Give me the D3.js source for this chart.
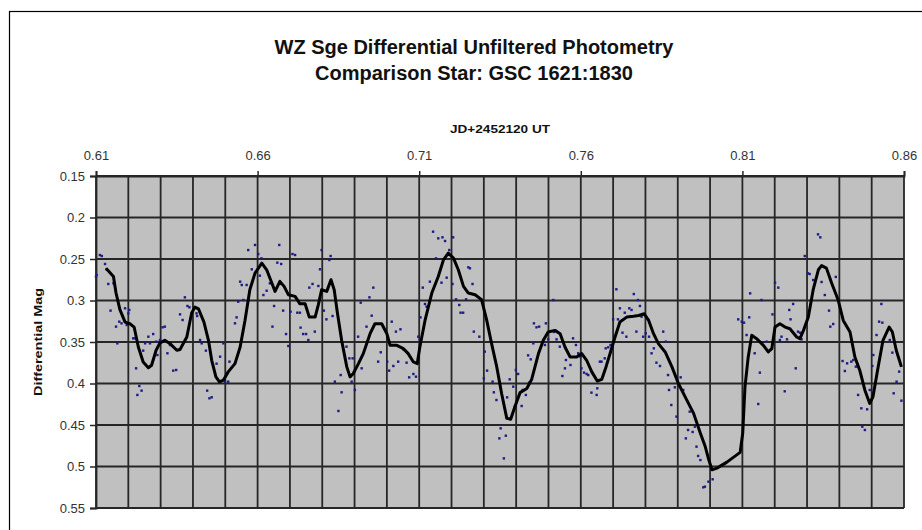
<html>
<head>
<script src="https://d3js.org/d3.v7.min.js"></script>
<style>
  body { margin: 0; background: #fff; }
  text { font-family: "Liberation Sans", Arial, sans-serif; }
</style>
</head>
<body>
<svg id="chart" width="922" height="530"></svg>
<script>
// chart text
const titleLines = ['WZ Sge Differential Unfiltered Photometry', 'Comparison Star: GSC 1621:1830'];
const xTitle = 'JD+2452120 UT';
const yTitle = 'Differential Mag';

// axis ticks
const xTicks = [0.61, 0.66, 0.71, 0.76, 0.81, 0.86];
const xGrid = d3.range(0, 26).map(i => +(0.61 + i * 0.01).toFixed(2));
const yTicks = [0.15, 0.2, 0.25, 0.3, 0.35, 0.4, 0.45, 0.5, 0.55];

// individual measurements (blue dots)
const dotJD = [
  0.6100,0.6102,0.6112,0.6118,0.6128,0.6133,0.6138,0.6145,0.6154,0.6162,0.6166,0.6172,0.6179,0.6190,0.6195,0.6200,0.6203,0.6215,0.6221,0.6224,
  0.6228,0.6234,0.6241,0.6246,0.6252,0.6262,0.6267,0.6277,0.6286,0.6290,0.6298,0.6306,0.6313,0.6321,0.6329,0.6339,0.6348,0.6360,0.6368,0.6375,
  0.6383,0.6389,0.6411,0.6413,0.6422,0.6427,0.6440,0.6444,0.6451,0.6458,0.6473,0.6484,0.6494,0.6499,0.6509,0.6513,0.6530,0.6535,0.6540,0.6546,
  0.6551,0.6556,0.6566,0.6571,0.6582,0.6592,0.6602,0.6607,0.6612,0.6618,0.6628,0.6638,0.6646,0.6651,0.6661,0.6667,0.6673,0.6679,0.6688,0.6695,
  0.6702,0.6708,0.6716,0.6723,0.6731,0.6733,0.6741,0.6750,0.6757,0.6760,
  0.6770,0.6777,0.6788,0.6793,0.6798,0.6805,0.6813,0.6822,0.6826,0.6832,0.6839,0.6850,0.6857,0.6860,0.6875,0.6884,0.6894,0.6891,0.6901,0.6911,
  0.6919,0.6922,0.6937,0.6946,0.6953,0.6958,0.6973,0.6981,0.7001,0.7007,0.7015,0.7020,0.7028,0.7035,0.7042,0.7051,0.7061,0.7069,0.7082,0.7090,
  0.7097,0.7104,0.7111,0.7118,0.7123,0.7133,0.7143,0.7152,0.7159,0.7169,0.7172,0.7180,0.7185,0.7193,0.7203,0.7205,0.7214,0.7224,0.7228,0.7236,
  0.7245,0.7252,0.7257,0.7265,0.7269,0.7286,0.7303,0.7310,0.7300,0.7327,0.7331,0.7339,0.7352,0.7348,0.7368,0.7362,0.7372,0.7380,0.7391,0.7396,
  0.7399,0.7406,0.7417,0.7420,0.7430,0.7437,0.7440,
  0.7445,0.7453,0.7455,0.7463,0.7471,0.7489,0.7492,0.7499,0.7515,0.7517,0.7525,0.7535,0.7543,0.7551,0.7554,0.7568,0.7576,0.7585,0.7592,0.7599,
  0.7602,0.7610,0.7618,0.7623,0.7633,0.7649,0.7651,0.7659,0.7664,0.7674,0.7677,0.7685,0.7692,0.7700,0.7710,0.7715,0.7721,0.7729,0.7736,0.7741,
  0.7750,0.7757,0.7764,0.7772,0.7777,0.7783,0.7788,0.7793,0.7801,0.7811,0.7819,0.7826,0.7834,0.7845,0.7855,0.7863,0.7870,0.7873,0.7880,0.7891,
  0.7896,0.7909,0.7917,0.7925,0.7932,0.7937,0.7946,0.7953,0.7958,0.7963,0.7970,0.7979,0.7984,0.7995,0.8008,
  0.8087,0.8098,0.8105,0.8121,0.8124,0.8113,0.8138,0.8154,0.8149,0.8159,0.8175,0.8193,0.8201,0.8211,0.8216,0.8221,0.8231,0.8238,0.8245,0.8249,
  0.8257,0.8265,0.8272,0.8278,0.8283,0.8293,0.8303,0.8308,0.8319,0.8334,0.8341,0.8345,0.8355,0.8368,0.8372,0.8381,0.8389,0.8410,0.8417,0.8424,
  0.8437,0.8443,0.8451,0.8458,0.8468,0.8471,0.8479,0.8486,0.8494,0.8502,0.8505,0.8515,0.8523,0.8530,0.8533,0.8556,0.8564,0.8568,0.8577,0.8585,
  0.8592
];
const dotMag = [
  0.2713,0.2693,0.2452,0.2464,0.2560,0.2624,0.2801,0.3122,0.2793,0.3315,0.3516,0.3255,0.3275,0.3094,0.3295,0.3155,0.3114,0.3456,0.3456,0.3817,
  0.4138,0.4030,0.4086,0.3604,0.3516,0.3436,0.3516,0.3404,0.3496,0.3657,0.3476,0.3323,0.3315,0.3636,0.3536,0.3845,0.3837,0.3167,0.3235,0.2962,
  0.3066,0.3082,0.3155,0.3187,0.3476,0.3516,0.3604,0.4086,0.4178,0.4166,0.3761,0.3677,0.3516,0.3978,0.3978,0.3737,0.3275,0.3203,0.3014,0.2773,
  0.2813,0.2994,0.2813,0.2392,0.2624,0.2331,0.2440,0.2701,0.2492,0.2934,0.2882,0.2793,0.3315,0.3066,0.2544,0.2331,0.2560,0.3122,0.3404,0.3548,
  0.3135,0.2440,0.2452,0.3147,0.3147,0.3327,0.3404,0.3404,0.3476,0.2845,
  0.2801,0.3375,0.2825,0.2624,0.2392,0.3122,0.3227,0.2512,0.2464,0.3187,0.3978,0.4331,0.3898,0.4106,0.3556,0.3697,0.3697,0.3978,0.4078,0.3436,
  0.3026,0.3817,0.3315,0.2962,0.3183,0.2845,0.3737,0.3624,0.3737,0.3845,0.3255,0.3789,0.3375,0.3737,0.3347,0.3588,0.3749,0.3926,0.3885,0.3918,
  0.3436,0.3203,0.2845,0.3042,0.3074,0.2773,0.2171,0.2492,0.2251,0.2785,0.2239,0.2283,0.2725,0.2392,0.2801,0.2239,0.2986,0.3054,0.3147,0.3147,
  0.2986,0.2600,0.2612,0.2801,0.3375,0.3436,0.3616,0.3845,0.3938,0.3978,0.4106,0.4199,0.4540,0.4661,0.4629,0.4902,0.4167,0.3950,0.4038,0.4280,
  0.3837,0.3885,0.4271,0.4078,0.4138,0.3661,0.3990,
  0.3709,0.3516,0.3275,0.3323,0.3315,0.3536,0.3275,0.3468,0.2994,0.3379,0.3468,0.3556,0.3910,0.3817,0.3717,0.3777,0.3456,0.3536,0.3636,0.3677,
  0.3817,0.3869,0.3885,0.3898,0.4110,0.4138,0.4058,0.3737,0.3737,0.3697,0.3576,0.3564,0.3536,0.3227,0.2865,0.3227,0.3094,0.3388,0.3147,0.3436,
  0.3094,0.3114,0.2922,0.3375,0.2994,0.3066,0.3195,0.3436,0.3396,0.3436,0.3636,0.3576,0.3749,0.3789,0.3375,0.3496,0.3898,0.4078,0.4259,0.4046,
  0.4399,0.3926,0.4078,0.4661,0.4560,0.4339,0.4584,0.4520,0.4761,0.4873,0.4922,0.5251,0.5243,0.5183,0.5154,
  0.3227,0.3255,0.3267,0.3203,0.2914,0.3416,0.3636,0.3869,0.4247,0.2994,0.3496,0.3167,0.2785,0.2845,0.3476,0.3436,0.4094,0.3468,0.3114,0.3227,
  0.3042,0.3817,0.3375,0.3388,0.3468,0.2464,0.2673,0.2681,0.2753,0.2203,0.2239,0.2777,0.2934,0.3122,0.3315,0.3283,0.2716,0.3729,0.3849,0.3757,
  0.3737,0.3717,0.3797,0.4138,0.4299,0.4520,0.4560,0.4311,0.4078,0.3789,0.3657,0.3416,0.3255,0.3042,0.3267,0.3476,0.3628,0.4118,0.3978,0.3857,
  0.4207
];

// running mean (black curve)
const trendJD = [
  0.6131,0.6154,0.6162,0.6174,0.6190,0.6205,0.6218,0.6231,0.6246,0.6262,0.6272,0.6286,0.6298,0.6313,0.6329,0.6350,0.6360,0.6381,0.6396,0.6406,
  0.6417,0.6434,0.6448,0.6458,0.6471,0.6482,0.6494,0.6509,0.6530,0.6546,0.6561,0.6576,0.6592,0.6613,0.6628,0.6644,0.6654,0.6669,0.6682,0.6695,
  0.6716,0.6731,0.6747,0.6760,0.6778,0.6788,0.6798,0.6814,0.6827,0.6837,0.6847,0.6860,0.6876,0.6886,0.6896,0.6912,0.6927,0.6948,0.6963,0.6984,
  0.7000,0.7010,0.7031,0.7051,0.7066,0.7082,0.7094,0.7102,0.7118,0.7139,0.7159,0.7175,0.7190,0.7206,0.7221,0.7237,0.7252,0.7273,0.7293,0.7309,
  0.7324,0.7340,0.7355,0.7371,0.7383,0.7396,0.7412,0.7433,0.7448,0.7469,0.7484,0.7499,0.7520,0.7536,0.7551,0.7567,0.7587,0.7603,0.7618,0.7634,
  0.7651,0.7665,0.7678,0.7692,0.7706,0.7721,0.7742,0.7763,0.7779,0.7796,0.7810,0.7825,0.7840,0.7861,0.7882,0.7902,0.7928,0.7949,0.7970,0.7985,
  0.7996,0.8006,0.8021,0.8051,0.8093,0.8101,0.8108,0.8118,0.8129,0.8144,0.8165,0.8180,0.8191,0.8201,0.8216,0.8232,0.8247,0.8268,0.8278,0.8289,
  0.8304,0.8319,0.8335,0.8345,0.8360,0.8376,0.8396,0.8412,0.8433,0.8448,0.8463,0.8479,0.8494,0.8504,0.8520,0.8535,0.8554,0.8564,0.8576,0.8592
];
const trendMag = [
  0.261,0.271,0.291,0.311,0.326,0.328,0.332,0.356,0.374,0.381,0.378,0.360,0.351,0.348,0.352,0.360,0.359,0.344,0.315,0.308,
  0.310,0.326,0.348,0.372,0.392,0.398,0.396,0.386,0.376,0.356,0.324,0.287,0.267,0.255,0.263,0.279,0.289,0.277,0.283,0.293,
  0.295,0.304,0.304,0.320,0.320,0.305,0.287,0.289,0.275,0.287,0.315,0.348,0.380,0.392,0.388,0.376,0.364,0.340,0.328,0.328,
  0.340,0.354,0.354,0.358,0.364,0.374,0.376,0.356,0.324,0.291,0.271,0.251,0.243,0.249,0.263,0.283,0.291,0.293,0.299,0.324,
  0.352,0.380,0.412,0.442,0.443,0.428,0.411,0.406,0.395,0.364,0.348,0.338,0.336,0.340,0.356,0.368,0.368,0.364,0.372,0.386,
  0.397,0.395,0.380,0.362,0.344,0.326,0.320,0.319,0.318,0.316,0.324,0.340,0.352,0.362,0.380,0.400,0.420,0.436,0.460,0.476,
  0.492,0.504,0.502,0.495,0.483,0.460,0.404,0.368,0.342,0.346,0.354,0.362,0.358,0.332,0.328,0.332,0.334,0.344,0.346,0.336,
  0.320,0.287,0.263,0.258,0.261,0.279,0.299,0.324,0.338,0.368,0.384,0.408,0.424,0.416,0.380,0.348,0.332,0.338,0.360,0.380
];

const svg = d3.select('svg#chart');
const width = +svg.attr('width');
const height = +svg.attr('height');
const margin = { top: 176, right: 18, bottom: 22, left: 96 };
const plotW = width - margin.left - margin.right;
const plotH = height - margin.top - margin.bottom;

const xScale = d3.scaleLinear().domain([0.61, 0.86]).range([0, plotW]);
const yScale = d3.scaleLinear().domain([0.15, 0.55]).range([0, plotH]);

// outer chart frame (runs off the right and bottom of the picture)
svg.append('rect')
  .attr('x', 9.5).attr('y', 11.5)
  .attr('width', width + 20).attr('height', height + 20)
  .attr('fill', 'white').attr('stroke', '#000').attr('stroke-width', 1.2);

// titles
svg.append('g').selectAll('text').data(titleLines).join('text')
  .attr('x', 474)
  .attr('y', (d, i) => 54 + i * 26)
  .attr('text-anchor', 'middle')
  .attr('font-size', 20)
  .attr('font-weight', 'bold')
  .attr('fill', '#111')
  .text(d => d);

svg.append('text')
  .attr('x', margin.left + plotW / 2)
  .attr('y', 133)
  .attr('text-anchor', 'middle')
  .attr('font-size', 11.5)
  .attr('font-weight', 'bold')
  .attr('textLength', 100)
  .attr('lengthAdjust', 'spacingAndGlyphs')
  .attr('fill', '#111')
  .text(xTitle);

svg.append('text')
  .attr('transform', `translate(42, ${margin.top + plotH / 2}) rotate(-90)`)
  .attr('text-anchor', 'middle')
  .attr('font-size', 11.5)
  .attr('font-weight', 'bold')
  .attr('textLength', 108)
  .attr('lengthAdjust', 'spacingAndGlyphs')
  .attr('fill', '#111')
  .text(yTitle);

const chart = svg.append('g')
  .attr('transform', `translate(${margin.left},${margin.top})`);

chart.append('rect')
  .attr('width', plotW).attr('height', plotH)
  .attr('fill', '#c0c0c0');

// gridlines
chart.append('g').attr('class', 'gridlines')
  .selectAll('line').data(xGrid).join('line')
  .attr('x1', d => xScale(d)).attr('x2', d => xScale(d))
  .attr('y1', 0).attr('y2', plotH)
  .attr('stroke', '#262626').attr('stroke-width', 1.8);

chart.append('g').attr('class', 'gridlines')
  .selectAll('line').data(yTicks).join('line')
  .attr('x1', 0).attr('x2', plotW)
  .attr('y1', d => yScale(d)).attr('y2', d => yScale(d))
  .attr('stroke', '#262626').attr('stroke-width', 1.8);

// axes
const xAxis = d3.axisTop(xScale).tickValues(xTicks).tickSize(5).tickPadding(11)
  .tickFormat(d3.format('.2f'));
chart.append('g').attr('class', 'x axis').call(xAxis);

const yAxis = d3.axisLeft(yScale).tickValues(yTicks).tickSize(6).tickPadding(5)
  .tickFormat(d => String(+d.toFixed(2)));
chart.append('g').attr('class', 'y axis').call(yAxis);

chart.selectAll('.axis .domain').attr('stroke', '#262626').attr('stroke-width', 1.8);
chart.selectAll('.axis .tick line').attr('stroke', '#262626').attr('stroke-width', 1.5);
chart.selectAll('.axis text')
  .attr('font-family', '"Liberation Sans", Arial, sans-serif')
  .attr('font-size', 13)
  .attr('fill', '#333');

// dots
const dots = dotJD.map((d, i) => ({ jd: d, mag: dotMag[i] }));
chart.append('g').selectAll('rect').data(dots).join('rect')
  .attr('x', d => xScale(d.jd) - 1.2)
  .attr('y', d => yScale(d.mag) - 1.2)
  .attr('width', 2.4).attr('height', 2.4)
  .attr('fill', '#1c1c86');

// running mean line
const trend = trendJD.map((d, i) => ({ jd: d, mag: trendMag[i] }));
const line = d3.line().x(d => xScale(d.jd)).y(d => yScale(d.mag));
chart.append('path')
  .datum(trend)
  .attr('d', line)
  .attr('fill', 'none')
  .attr('stroke', '#000')
  .attr('stroke-width', 3)
  .attr('stroke-linejoin', 'round');
</script>
</body>
</html>
